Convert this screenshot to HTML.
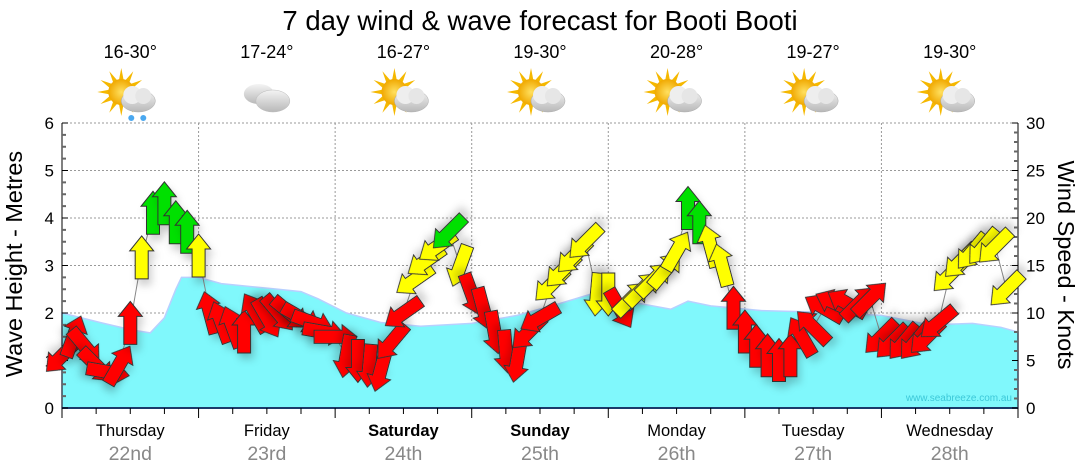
<!DOCTYPE html>
<html><head><meta charset="utf-8"><style>
body{margin:0;background:#fff;width:1080px;height:475px;overflow:hidden;font-family:"Liberation Sans",sans-serif}
svg{display:block}
</style></head><body>
<svg id="chart" width="1080" height="475" viewBox="0 0 1080 475">
<defs>
<filter id="sh" x="-50%" y="-50%" width="200%" height="200%"><feDropShadow dx="3" dy="6" stdDeviation="4" flood-color="#000" flood-opacity="0.18"/></filter>
<radialGradient id="sun" cx="50%" cy="50%" r="50%"><stop offset="0" stop-color="#ffe060"/><stop offset="1" stop-color="#f0a800"/></radialGradient>
<linearGradient id="cloud" x1="0" y1="0" x2="0" y2="1"><stop offset="0" stop-color="#f4f4f4"/><stop offset="1" stop-color="#b8b8b8"/></linearGradient>
</defs>
<text x="540" y="30" text-anchor="middle" font-size="27.5" fill="#000">7 day wind &amp; wave forecast for Booti Booti</text>
<g id="grid"></g>
<path id="wave" fill="#80f8fc" stroke="#b8d0ff" stroke-width="1.5"></path>
<text x="1012" y="401" text-anchor="end" font-size="10" fill="#3cc8d8">www.seabreeze.com.au</text>
<g id="axes"></g>
<g id="wind"></g>
<g id="topicons"></g>
<text transform="translate(22,264) rotate(-90)" text-anchor="middle" font-size="23.5" fill="#000">Wave Height - Metres</text>
<text transform="translate(1058,265) rotate(90)" text-anchor="middle" font-size="23.5" fill="#000">Wind Speed - Knots</text>
</svg>
<script>
const dayNames=["Thursday","Friday","Saturday","Sunday","Monday","Tuesday","Wednesday"];
const dayDates=["22nd","23rd","24th","25th","26th","27th","28th"];
const boldDays=[false,false,true,true,false,false,false];
const tempRanges=["16-30°","17-24°","16-27°","19-30°","20-28°","19-27°","19-30°"];
const iconTypes=["sunrain","cloud","suncloud","suncloud","suncloud","suncloud","suncloud"];
const waveHours=[0,6.7,12,15.5,18,20,21,24,28,38,42,45,50,56,63,72,80,87.5,93,96,101.5,107,110,114,123,133,144,152.5,160,165,168];
const waveHeights=[2.0,1.8,1.65,1.58,1.9,2.5,2.75,2.75,2.62,2.5,2.45,2.3,2.0,1.8,1.72,1.78,1.95,2.2,2.4,2.35,2.2,2.08,2.25,2.15,2.05,2.02,1.95,1.75,1.78,1.7,1.6];
const windSpeed=[5.5,7.5,6.5,4.5,3.8,4.5,8.9,15.8,20.5,21.5,19.5,18.5,
16,10,9,8.5,8,10,9.5,10,10,9.5,9,8,
7.5,5.5,5,4.5,4,7,10,13.5,15.5,17,18.5,15,
12,10.5,8,6,5,8,9.5,13,14.5,16,17.5,12,
12,10.5,11.5,12.5,13.5,14.5,16.5,21,19.5,17,15,10.5,
8,6.5,5.5,5,5.5,7.5,8.5,10.5,11,11,11,11.5,
7.5,7,7,7,7.5,9,14,15.5,16.5,17,17,12.5];
const windDir=[225,20,140,135,100,30,0,0,0,0,0,0,
0,345,340,340,0,330,150,140,130,120,110,100,
90,190,180,185,195,220,235,235,235,235,225,200,
160,165,170,175,190,225,240,225,225,225,225,185,
180,150,45,45,45,40,30,0,0,345,345,0,
0,0,0,0,0,330,315,300,295,300,45,45,
225,225,220,220,225,230,225,225,220,220,225,225];
const windColor=["r","r","r","r","r","r","r","y","g","g","g","g",
"y","r","r","r","r","r","r","r","r","r","r","r",
"r","r","r","r","r","r","r","y","y","y","g","y",
"r","r","r","r","r","r","r","y","y","y","y","y",
"y","r","y","y","y","y","y","g","g","y","y","r",
"r","r","r","r","r","r","r","r","r","r","r","r",
"r","r","r","r","r","r","y","y","y","y","y","y"];
{
const NS="http://www.w3.org/2000/svg";
const X0=62,X1=1018,Y0=408,Y1=123;
const xH=h=>X0+h*(X1-X0)/168;
const yM=m=>Y0-m*(Y0-Y1)/6;
const yK=k=>Y0-k*(Y0-Y1)/30;
function el(t,a,p){const e=document.createElementNS(NS,t);for(const k in a)e.setAttribute(k,a[k]);p.appendChild(e);return e;}
const grid=document.getElementById('grid'),axes=document.getElementById('axes'),wind=document.getElementById('wind'),topG=document.getElementById('topicons');
for(let m=1;m<=6;m++){const g=el('line',{x1:X0,x2:X1,y1:yM(m),y2:yM(m),stroke:'#999','stroke-dasharray':'2,2'},grid);

}
for(let dd=1;dd<7;dd++){const g=el('line',{x1:xH(dd*24),x2:xH(dd*24),y1:Y1,y2:Y0,stroke:'#999','stroke-dasharray':'2,2'},grid);

}
let wp='M'+xH(0)+','+Y0;
waveHours.forEach((h,i)=>{wp+=' L'+xH(h).toFixed(1)+','+yM(waveHeights[i]).toFixed(1);});
wp+=' L'+xH(168)+','+Y0+' Z';
document.getElementById('wave').setAttribute('d',wp);
el('line',{x1:X0,x2:X0,y1:Y1,y2:Y0,stroke:'#000'},axes);
el('line',{x1:X1,x2:X1,y1:Y1,y2:Y0,stroke:'#000'},axes);
el('line',{x1:X0,x2:X1,y1:Y0,y2:Y0,stroke:'#1a3a6a','stroke-width':2},axes);
for(let i=0;i<=24;i++){const m=i/4;const maj=i%4==0;
el('line',{x1:X0,x2:X0+(maj?6:4),y1:yM(m),y2:yM(m),stroke:maj?'#000':'#666','stroke-width':maj?1:2},axes);
if(maj){const t=el('text',{x:X0-8,y:yM(m)+6,'text-anchor':'end','font-size':17},axes);t.textContent=m;

}}
for(let k=0;k<=30;k++){const maj=k%5==0;
el('line',{x1:X1,x2:X1-(maj?6:4),y1:yK(k),y2:yK(k),stroke:maj?'#000':'#666','stroke-width':maj?1:2},axes);
if(maj){const t=el('text',{x:X1+8,y:yK(k)+6,'font-size':17},axes);t.textContent=k;

}}
for(let h=0;h<=168;h+=6){const maj=h%24==0;
el('line',{x1:xH(h),x2:xH(h),y1:Y0,y2:Y0+(maj?10:6),stroke:'#000'},axes);}
for(let i=0;i<7;i++){const cx=xH(i*24+12);
const t=el('text',{x:cx,y:436,'text-anchor':'middle','font-size':16.5,'font-weight':boldDays[i]?'bold':'normal'},axes);t.textContent=dayNames[i];


const t2=el('text',{x:cx,y:460,'text-anchor':'middle','font-size':19.5,fill:'#888'},axes);t2.textContent=dayDates[i];


const t3=el('text',{x:cx,y:58,'text-anchor':'middle','font-size':18},topG);t3.textContent=tempRanges[i];


const g=el('g',{transform:`translate(${cx},98)`},topG);


if(iconTypes[i]!='cloud'){
for(let r=0;r<12;r++){const a=r*30*Math.PI/180;el('polygon',{points:`${-9+12*Math.cos(a+0.2)},${-6+12*Math.sin(a+0.2)} ${-9+24*Math.cos(a)},${-6+24*Math.sin(a)} ${-9+12*Math.cos(a-0.2)},${-6+12*Math.sin(a-0.2)}`,fill:'#f5b800'},g);}
el('circle',{cx:-9,cy:-6,r:13,fill:'url(#sun)'},g);
el('ellipse',{cx:8,cy:3,rx:17,ry:11,fill:'url(#cloud)',stroke:'#aaa','stroke-width':0.5},g);
el('circle',{cx:2,cy:-3,r:9,fill:'#eee'},g);el('circle',{cx:13,cy:-2,r:8,fill:'#e6e6e6'},g);
if(iconTypes[i]=='sunrain'){el('circle',{cx:1,cy:20,r:3,fill:'#4aa8f0'},g);el('circle',{cx:13,cy:20,r:3,fill:'#4aa8f0'},g);}
}else{
el('ellipse',{cx:-8,cy:-4,rx:15,ry:10,fill:'url(#cloud)'},g);
el('ellipse',{cx:6,cy:3,rx:17,ry:11,fill:'url(#cloud)',stroke:'#bbb','stroke-width':0.5},g);}
}
let lp='';windSpeed.forEach((s,i)=>{lp+=(i?' L':'M')+xH(i*2).toFixed(1)+','+yK(s).toFixed(1);});
const wl=el('path',{d:lp,fill:'none',stroke:'#888','stroke-width':1},wind);


const cols={r:'#ff0000',y:'#ffff00',g:'#00e000'};
const arrowPts="0,-22 12,-7 6.5,-7 6.5,21 -6.5,21 -6.5,-7 -12,-7";
windSpeed.forEach((s,i)=>{
const a=el('polygon',{points:arrowPts,fill:cols[windColor[i]],stroke:'#333','stroke-width':1,filter:'url(#sh)',
transform:`translate(${xH(i*2).toFixed(1)},${yK(s).toFixed(1)}) rotate(${windDir[i]})`},wind);


});
}
</script>
</body></html>
